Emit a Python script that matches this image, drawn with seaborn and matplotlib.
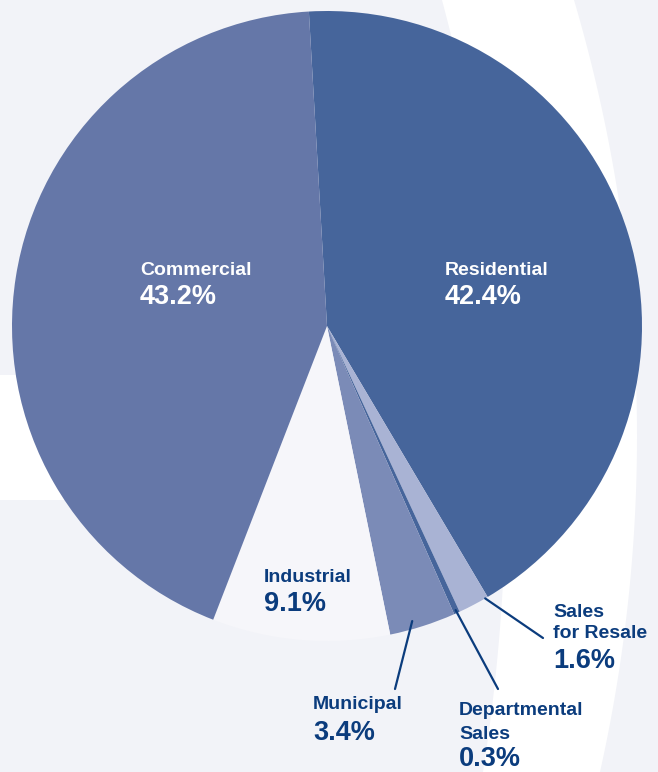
import numpy as np
import matplotlib
matplotlib.use("Agg")
import matplotlib.pyplot as plt
import seaborn as sns

# ---------------- data ----------------
categories = ["Residential", "Sales for Resale", "Departmental Sales",
              "Municipal", "Industrial", "Commercial"]
shares = [42.4, 1.6, 0.3, 3.4, 9.1, 43.2]
name_lines = [["Residential"], ["Sales", "for Resale"], ["Departmental", "Sales"],
              ["Municipal"], ["Industrial"], ["Commercial"]]
pct_labels = ["42.4%", "1.6%", "0.3%", "3.4%", "9.1%", "43.2%"]

# ---------------- styles / layout ----------------
slice_colors = ["#46659b", "#a9b3d4", "#46659b", "#7b8bb7", "#f6f6fa", "#6577a8"]
text_colors = ["white", "#0b3c7d", "#0b3c7d", "#0b3c7d", "#0b3c7d", "white"]
NAVY = "#0b3c7d"
BG = "#f2f3f8"
W, H = 658, 772
CX, CY, R = 327, 326, 315          # pie centre / radius in pixels

# label layout in pixels: x, name baselines, percent baseline
label_x = [445, 553, 459, 313, 264, 140]
name_baselines = [[275], [617, 638], [715, 739], [709], [582], [275]]
pct_baselines = [304, 668, 766, 740, 611, 304]
# leader lines: (fraction along wedge clockwise, radius) -> end pixel
leaders = {1: (0.09, 1.0, (543, 638)),
           2: (0.5, 0.99, (498, 689)),
           3: (0.63, 0.975, (395, 689))}

sns.set_theme(style="white")
plt.rcParams["font.family"] = ["Liberation Sans", "DejaVu Sans"]

fig = plt.figure(figsize=(W / 100, H / 100), dpi=100, facecolor=BG)

# decorative background
bg = fig.add_axes([0, 0, 1, 1], zorder=0)
bg.set_xlim(0, W)
bg.set_ylim(H, 0)
bg.axis("off")
bg.patch.set_alpha(0)
yy = np.linspace(0, H, 400)
left_edge = -1351 + np.sqrt(1856.7 ** 2 - (yy - 482.3) ** 2)
right_edge = -904.5 + np.sqrt(1541.5 ** 2 - (yy - 436.2) ** 2)
bg.fill_betweenx(yy, left_edge, right_edge, color="white", lw=0)
bg.fill_between([0, 300], 375, 500, color="white", lw=0)

# pie
ax = fig.add_axes([0, 0, 1, 1], zorder=1)
wedges, _ = ax.pie(shares, colors=slice_colors, startangle=93.3,
                   counterclock=False, radius=1,
                   wedgeprops=dict(linewidth=0))
ax.set_aspect("equal", adjustable="box")
ax.set_xlim(-CX / R, (W - CX) / R)
ax.set_ylim(-(H - CY) / R, CY / R)
ax.axis("off")
ax.patch.set_alpha(0)

# leader lines
for i, (frac, rr, end) in leaders.items():
    w = wedges[i]
    ang = np.deg2rad(w.theta2 - frac * (w.theta2 - w.theta1))
    start = (rr * np.cos(ang), rr * np.sin(ang))
    ax.annotate("", xy=start, xycoords="data",
                xytext=(end[0], H - end[1]), textcoords="figure pixels",
                arrowprops=dict(arrowstyle="-", color=NAVY, lw=1.6,
                                shrinkA=0, shrinkB=0))

# labels
for i in range(len(categories)):
    x = label_x[i] / W
    for line, base in zip(name_lines[i], name_baselines[i]):
        fig.text(x, 1 - base / H, line, fontsize=14, fontweight="bold",
                 color=text_colors[i], ha="left", va="baseline", zorder=5)
    fig.text(x, 1 - pct_baselines[i] / H, pct_labels[i], fontsize=19.5,
             fontweight="bold", color=text_colors[i], ha="left",
             va="baseline", zorder=5)

fig.savefig("out.png", dpi=100, facecolor=BG)
